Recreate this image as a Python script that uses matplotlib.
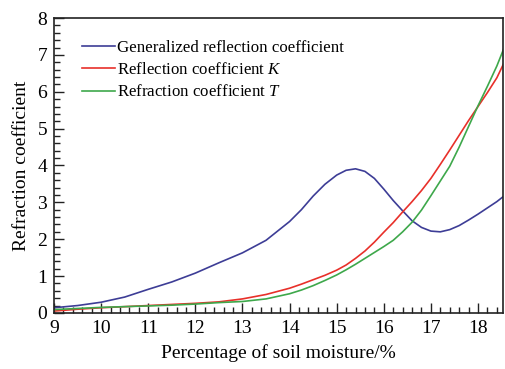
import matplotlib
matplotlib.use("Agg")
import matplotlib.pyplot as plt
from matplotlib.ticker import MultipleLocator

plt.rcParams['font.family'] = ['Liberation Serif', 'DejaVu Serif']
plt.rcParams['mathtext.fontset'] = 'custom'
plt.rcParams['mathtext.rm'] = 'Liberation Serif'
plt.rcParams['mathtext.it'] = 'Liberation Serif:italic'

# Soil moisture (%) sample points
moisture = [9.0, 9.5, 10.0, 10.5, 11.0, 11.5, 12.0, 12.5, 13.0, 13.5, 14.0, 14.25,
            14.5, 14.75, 15.0, 15.2, 15.4, 15.6, 15.8, 16.0, 16.2, 16.4, 16.6, 16.8,
            17.0, 17.2, 17.4, 17.6, 17.8, 18.0, 18.2, 18.4, 18.55]

generalized = [0.14, 0.20, 0.29, 0.43, 0.64, 0.84, 1.08, 1.36, 1.63, 1.97, 2.48, 2.80,
               3.17, 3.49, 3.74, 3.87, 3.91, 3.84, 3.65, 3.36, 3.05, 2.77, 2.50, 2.32,
               2.22, 2.20, 2.26, 2.37, 2.52, 2.68, 2.85, 3.02, 3.17]

reflection_k = [0.05, 0.10, 0.14, 0.17, 0.20, 0.23, 0.26, 0.30, 0.38, 0.50, 0.67, 0.78,
                0.90, 1.02, 1.16, 1.30, 1.48, 1.68, 1.92, 2.19, 2.45, 2.74, 3.02, 3.32,
                3.65, 4.03, 4.42, 4.82, 5.22, 5.60, 5.98, 6.38, 6.78]

refraction_t = [0.09, 0.12, 0.15, 0.17, 0.19, 0.21, 0.24, 0.28, 0.31, 0.38, 0.52, 0.62,
                0.74, 0.88, 1.03, 1.17, 1.32, 1.48, 1.64, 1.80, 1.97, 2.20, 2.46, 2.79,
                3.18, 3.58, 3.98, 4.50, 5.06, 5.62, 6.15, 6.70, 7.18]

labels = ["Generalized reflection coefficient",
          "Reflection coefficient $K$",
          "Refraction coefficient $T$"]
colors = ["#3d3d96", "#e8302a", "#3ea84b"]

fig = plt.figure(figsize=(5.05, 3.69), dpi=100)
ax = fig.add_axes([0.107, 0.152, 0.889, 0.799])

for series, lab, col in zip([generalized, reflection_k, refraction_t], labels, colors):
    ax.plot(moisture, series, color=col, lw=1.2, label=lab)

ax.set_xlim(9, 18.53)
ax.set_ylim(0, 8)
ax.xaxis.set_major_locator(MultipleLocator(1))
ax.xaxis.set_minor_locator(MultipleLocator(0.2))
ax.yaxis.set_major_locator(MultipleLocator(1))
ax.yaxis.set_minor_locator(MultipleLocator(0.2))
ax.tick_params(which='both', direction='in', labelsize=14, width=1.0, color='#222222')
ax.tick_params(which='major', length=7, pad=5)
ax.tick_params(which='minor', length=4)
for sp in ax.spines.values():
    sp.set_linewidth(1.2)
    sp.set_color('#222222')

ax.set_xlabel("Percentage of soil moisture/%", fontsize=14, labelpad=5)
ax.set_ylabel("Refraction coefficient", fontsize=14, labelpad=5)

ax.legend(loc='upper left', bbox_to_anchor=(0.035, 0.965), frameon=False, fontsize=12.2,
          handlelength=2.0, handletextpad=0.1, labelspacing=0.36, borderpad=0.2)

fig.savefig("out.png", dpi=100)
